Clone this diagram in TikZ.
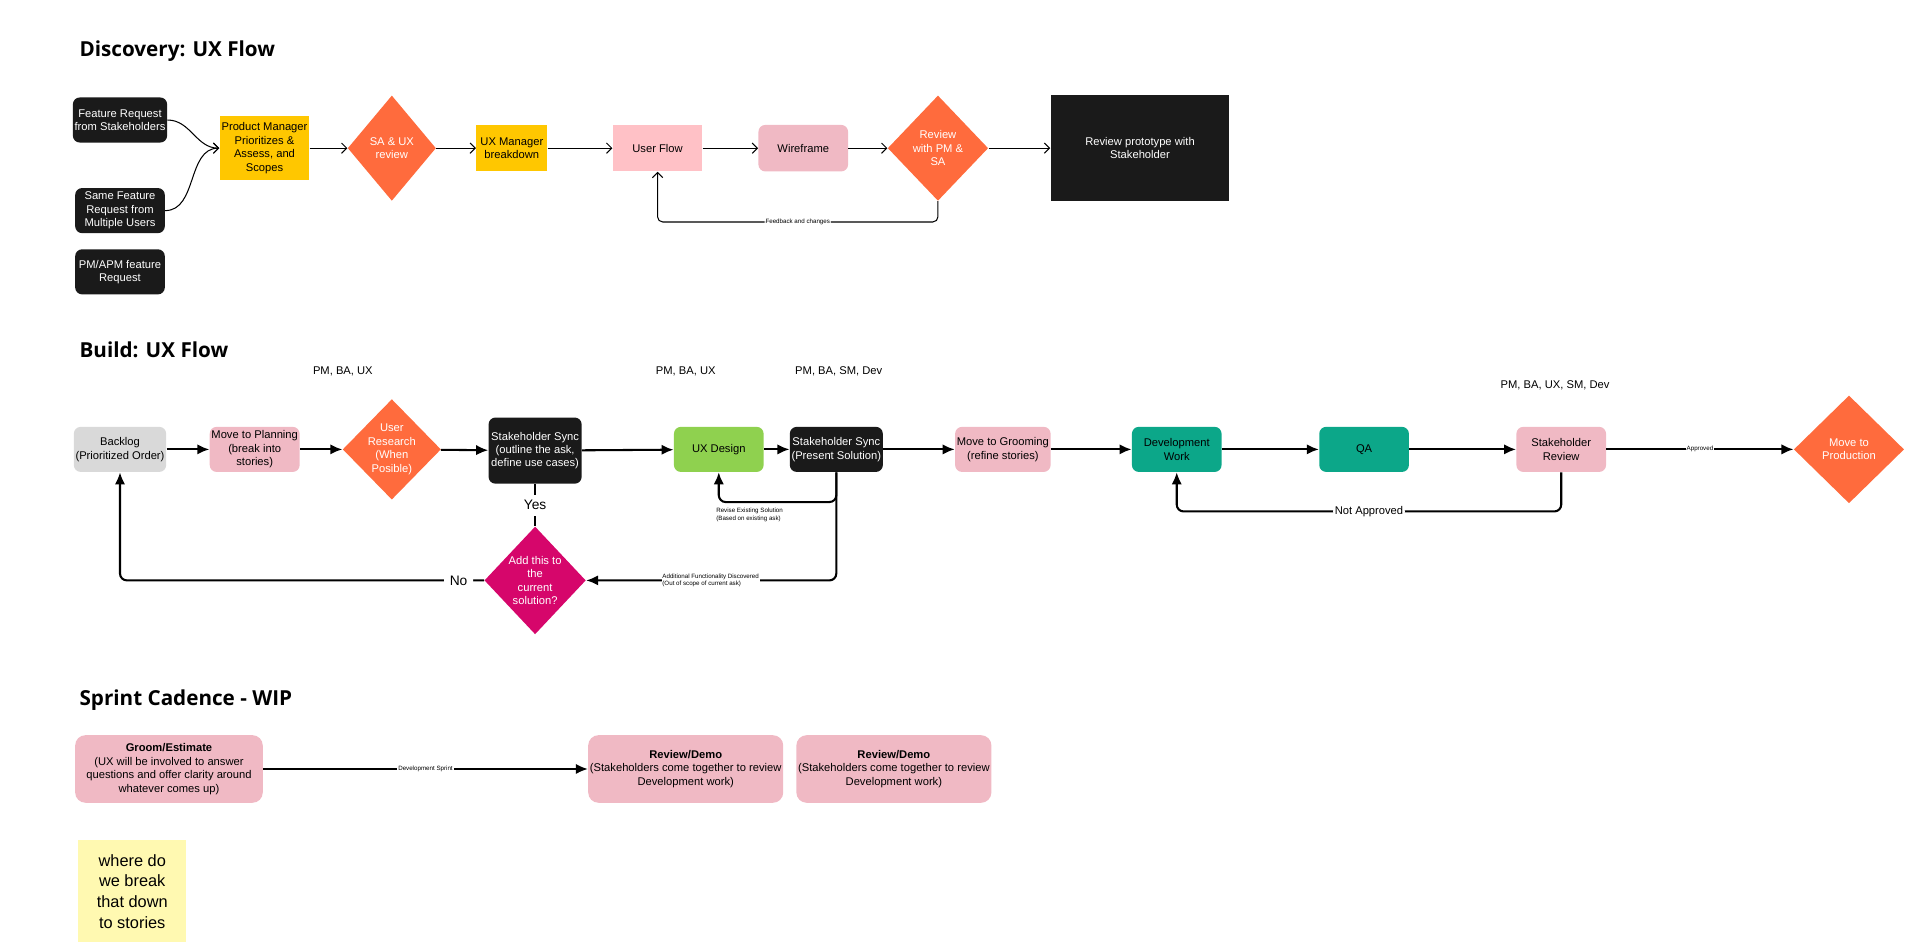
\documentclass[tikz,border=0pt]{standalone}
\usepackage{fontspec}
\setmainfont{Liberation Sans}
\newfontfamily\headfont{Open Sans}
\usetikzlibrary{shapes.geometric,arrows.meta}
\definecolor{ink}{HTML}{1A1A1A}
\definecolor{yel}{HTML}{FFC700}
\definecolor{orng}{HTML}{FF6B3D}
\definecolor{rose}{HTML}{F0B9C4}
\definecolor{lrose}{HTML}{FFC1C6}
\definecolor{grey}{HTML}{D9D9D9}
\definecolor{lime}{HTML}{8FD14F}
\definecolor{teal}{HTML}{0CA789}
\definecolor{mag}{HTML}{D6066B}
\definecolor{sticky}{HTML}{FFF9B1}
\begin{document}
\begin{tikzpicture}[x=0.025cm,y=-0.025cm]
\tikzset{
  txt/.style={font=\fontsize{6.5}{7.8}\selectfont, align=center},
  box/.style={txt, rectangle, rounded corners=4pt, minimum width=1.83cm, minimum height=0.92cm, inner sep=1pt},
  blk/.style={box, fill=ink, text=white},
  diam/.style={txt, diamond, inner sep=0pt, fill=orng, text=white, minimum width=1.8cm, minimum height=2.15cm},
  title/.style={font=\headfont\bfseries\fontsize{12}{14}\selectfont, anchor=west},
  who/.style={font=\fontsize{6.5}{7.8}\selectfont},
  tiny/.style={font=\fontsize{3.6}{4.4}\selectfont, fill=white, inner sep=0.5pt},
  thin arrow/.style={-{Straight Barb[length=3pt,width=6pt]}, semithick},
  thick arrow/.style={-{Latex[length=7pt,width=6pt]}, line width=1.2pt},
}
\useasboundingbox (0,0) rectangle (1568,770);
% Discovery
\node[title] (t1) at (60,42) {Discovery: UX Flow};
\node[blk] (fr) at (98,98) {Feature Request\\from Stakeholders};
\node[blk] (sf) at (98,172) {Same Feature\\Request from\\Multiple Users};
\node[blk] (pm) at (98,222) {PM/APM feature\\Request};
\node[box, rounded corners=0pt, fill=yel, minimum height=1.3cm] (pmp) at (216,121) {Product Manager\\Prioritizes \&\\Assess, and\\Scopes};
\node[diam] (saux) at (320,121) {SA \& UX\\review};
\node[box, rounded corners=0pt, fill=yel, minimum width=1.45cm, minimum height=0.95cm] (uxm) at (418,121) {UX Manager\\breakdown};
\node[box, rounded corners=0pt, fill=lrose, minimum height=0.95cm] (uf) at (537,121) {User Flow};
\node[box, fill=rose, minimum height=0.95cm] (wf) at (656,121) {Wireframe};
\node[diam, minimum width=2.05cm] (rev) at (766,121) {Review\\with PM \&\\SA};
\node[box, rounded corners=0pt, fill=ink, text=white, minimum width=3.65cm, minimum height=2.15cm] (proto) at (931,121) {Review prototype with\\Stakeholder};
\draw[thin arrow] (fr.east) to[out=0,in=180] (pmp.west);
\draw[thin arrow] (sf.east) to[out=0,in=180] (pmp.west);
\draw[thin arrow] (pmp) -- (saux);
\draw[thin arrow] (saux) -- (uxm);
\draw[thin arrow] (uxm) -- (uf);
\draw[thin arrow] (uf) -- (wf);
\draw[thin arrow] (wf) -- (rev);
\draw[thin arrow] (rev) -- (proto);
\draw[thin arrow, rounded corners=3pt] (rev.south) -- ++(0,17) -| node[tiny, pos=0.25] {Feedback and changes} (uf.south);
% Build
\node[title] (t2) at (60,286) {Build: UX Flow};
\node[who] (w1) at (280,303) {PM, BA, UX};
\node[who] (w2) at (560,303) {PM, BA, UX};
\node[who] (w3) at (685,303) {PM, BA, SM, Dev};
\node[who] (w4) at (1270,315) {PM, BA, UX, SM, Dev};
\node[box, fill=grey] (bl) at (98,367) {Backlog\\(Prioritized Order)};
\node[box, fill=rose] (mp) at (208,367) {Move to Planning\\(break into\\stories)};
\node[diam, minimum width=1.8cm, minimum height=2.05cm] (ur) at (320,367) {User\\Research\\(When\\Posible)};
\node[blk, minimum width=1.9cm, minimum height=1.35cm] (ss1) at (437,368) {Stakeholder Sync\\(outline the ask,\\define use cases)};
\node[box, fill=lime] (uxd) at (587,367) {UX Design};
\node[blk] (ss2) at (683,367) {Stakeholder Sync\\(Present Solution)};
\node[box, fill=rose] (mg) at (819,367) {Move to Grooming\\(refine stories)};
\node[box, fill=teal] (dw) at (961,367) {Development\\Work};
\node[box, fill=teal] (qa) at (1114,367) {QA};
\node[box, fill=rose] (sr) at (1275,367) {Stakeholder\\Review};
\node[diam, minimum width=2.25cm, minimum height=2.2cm] (mprod) at (1510,367) {Move to\\Production};
\node[diam, fill=mag, minimum width=2.05cm, minimum height=2.2cm] (add) at (437,474) {Add this to\\the\\current\\solution?};
\draw[thick arrow] (bl) -- (mp);
\draw[thick arrow] (mp) -- (ur);
\draw[thick arrow] (ur) -- (ss1);
\draw[thick arrow] (ss1) -- (uxd);
\draw[thick arrow] (uxd) -- (ss2);
\draw[thick arrow] (ss2) -- (mg);
\draw[thick arrow] (mg) -- (dw);
\draw[thick arrow] (dw) -- (qa);
\draw[thick arrow] (qa) -- (sr);
\draw[thick arrow] (sr) -- node[tiny] {Approved} (mprod);
\draw[thick arrow, rounded corners=4pt] (sr.south) -- ++(0,32) -| node[who, fill=white, inner sep=1pt, pos=0.25] {Not Approved} (dw.south);
\draw[line width=1.2pt] (ss1.south) -- node[who, fill=white, font=\fontsize{8}{9}\selectfont] {Yes} (add.north);
\draw[thick arrow, rounded corners=4pt] (add.west) -- node[who, fill=white, font=\fontsize{8}{9}\selectfont, pos=0.07] {No} (98,474) -- (bl.south);
\draw[thick arrow, rounded corners=4pt] (ss2.south) -- (683,474) -- (add.east);
\node[tiny, align=left, anchor=west] (afd) at (540,474) {Additional Functionality Discovered\\(Out of scope of current ask)};
\draw[thick arrow, rounded corners=4pt] (ss2.south) -- (683,410) -| (uxd.south);
\node[tiny, align=left, anchor=north west, fill=none] (res) at (584,414) {Revise Existing Solution\\(Based on existing ask)};
% Sprint
\node[title] (t3) at (60,572) {Sprint Cadence - WIP};
\node[box, fill=rose, minimum width=3.83cm, minimum height=1.38cm, rounded corners=6pt] (ge) at (138,628) {\textbf{Groom/Estimate}\\(UX will be involved to answer\\questions and offer clarity around\\whatever comes up)};
\node[box, fill=rose, minimum width=3.83cm, minimum height=1.38cm, rounded corners=6pt] (rd1) at (560,628) {\textbf{Review/Demo}\\(Stakeholders come together to review\\Development work)};
\node[box, fill=rose, minimum width=3.83cm, minimum height=1.38cm, rounded corners=6pt] (rd2) at (730,628) {\textbf{Review/Demo}\\(Stakeholders come together to review\\Development work)};
\draw[thick arrow, line width=1pt] (ge) -- node[tiny] {Development Sprint} (rd1);
\node[fill=sticky, minimum width=2.2cm, minimum height=2.08cm, align=center, font=\fontsize{9.5}{12}\selectfont] (note) at (108,728) {where do\\we break\\that down\\to stories};
\end{tikzpicture}
\end{document}
